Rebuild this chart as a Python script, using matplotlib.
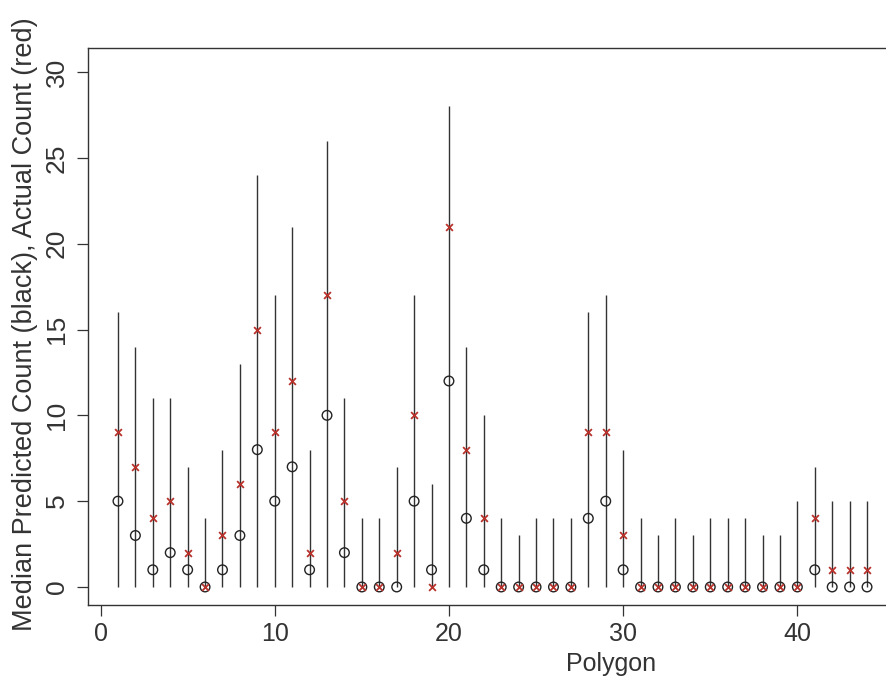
import matplotlib
matplotlib.use("Agg")
import matplotlib.pyplot as plt
import numpy as np

plt.rcParams['font.family'] = ['Liberation Sans', 'DejaVu Sans']

# polygon index and values
polygon = list(range(1, 45))
upper = [16, 14, 11, 11, 7, 4, 8, 13, 24, 17, 21, 8, 26, 11, 4, 4, 7, 17, 6, 28,
         14, 10, 4, 3, 4, 4, 4, 16, 17, 8, 4, 3, 4, 3, 4, 4, 4, 3, 3, 5,
         7, 5, 5, 5]
lower = [0] * 44
median = [5, 3, 1, 2, 1, 0, 1, 3, 8, 5, 7, 1, 10, 2, 0, 0, 0, 5, 1, 12,
          4, 1, 0, 0, 0, 0, 0, 4, 5, 1, 0, 0, 0, 0, 0, 0, 0, 0, 0, 0,
          1, 0, 0, 0]
actual = [9, 7, 4, 5, 2, 0, 3, 6, 15, 9, 12, 2, 17, 5, 0, 0, 2, 10, 0, 21,
          8, 4, 0, 0, 0, 0, 0, 9, 9, 3, 0, 0, 0, 0, 0, 0, 0, 0, 0, 0,
          4, 1, 1, 1]

W, H = 887, 692
fig = plt.figure(figsize=(W / 100, H / 100), dpi=100)
# the reference is cropped on the right, so the box runs past the edge
ax = fig.add_axes([88 / W, 1 - 605 / H, (897 - 88) / W, (605 - 48) / H])

ax.vlines(polygon, lower, upper, color='#333333', linewidth=1.0)
ax.scatter(polygon, median, s=48, facecolors='none', edgecolors='#222222', linewidths=1.0, zorder=3)
ax.scatter(polygon, actual, s=24, marker='x', color='#b8322c', linewidths=1.3, zorder=4)

ax.set_xlim(-0.72, 45.72)
ax.set_ylim(-1.05, 31.4)
ax.set_xticks([0, 10, 20, 30, 40])
ax.set_yticks([0, 5, 10, 15, 20, 25, 30])
ax.tick_params(direction='out', length=8, width=0.9, colors='#333333', labelcolor='#333333')
ax.tick_params(axis='x', labelsize=18, pad=4)
ax.tick_params(axis='y', labelsize=19, pad=6)
for lbl in ax.get_yticklabels():
    lbl.set_rotation(90)
    lbl.set_va('center')
for s in ax.spines.values():
    s.set_color('#333333')
    s.set_linewidth(1.0)

ax.set_xlabel('Polygon', fontsize=18, color='#333333', labelpad=8)
ax.xaxis.set_label_coords((611 - 88) / (897 - 88), -0.085)
ax.set_ylabel('Median Predicted Count (black), Actual Count (red)', fontsize=19.5, color='#333333')
ax.yaxis.set_label_coords(-(88 - 38) / (897 - 88), (605 - 324) / (605 - 48))

fig.savefig('out.png', dpi=100)
